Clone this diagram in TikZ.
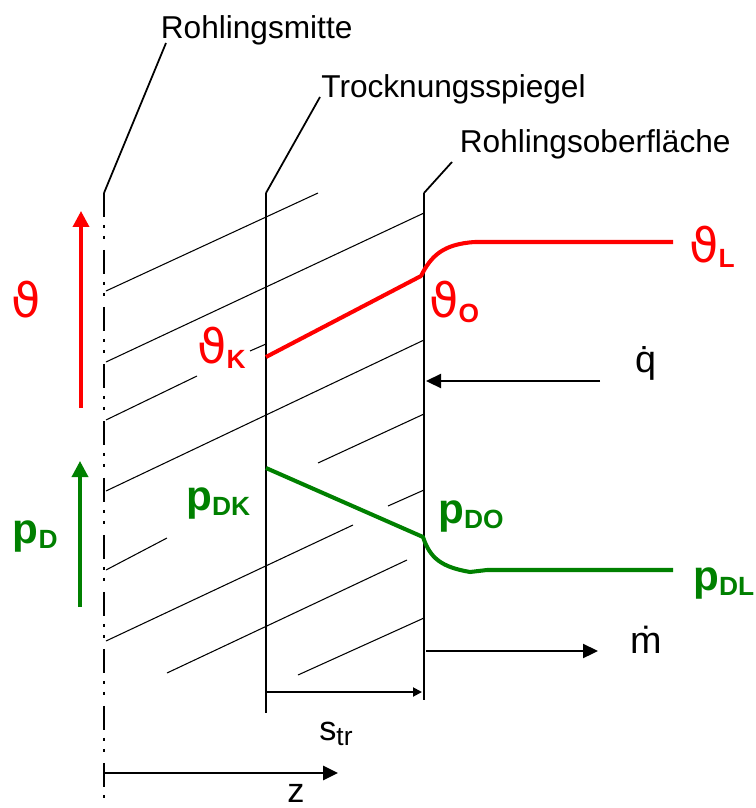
\documentclass[tikz,border=0pt]{standalone}
\usepackage{fontspec}
\setmainfont{Liberation Sans}
\newfontfamily\thetafont{DejaVu Sans}
\usetikzlibrary{arrows.meta,positioning}
\definecolor{thetared}{RGB}{255,0,0}
\definecolor{pdgreen}{RGB}{0,128,0}
\newcommand{\vth}{{\thetafont\mdseries\fontsize{27}{29}\selectfont ϑ}}
\newcommand{\lowidx}[1]{\raisebox{-0.11cm}{\fontsize{15}{17}\selectfont #1}}
\tikzset{
  plane label/.style={anchor=base west,inner sep=0pt,font=\fontsize{18}{20}\selectfont},
  theta label/.style={anchor=base west,inner sep=0pt,text=thetared,font=\fontsize{21.5}{24}\selectfont\bfseries},
  pd label/.style={anchor=base west,inner sep=0pt,text=pdgreen,font=\fontsize{24}{26}\selectfont\bfseries},
  flux label/.style={anchor=base west,inner sep=0pt,font=\fontsize{21.5}{24}\selectfont},
  leader line/.style={line width=1pt},
  hatch line/.style={line width=0.6pt},
  mid line/.style={line width=1.7pt,dash pattern=on 0.48cm off 0.16cm on 0.06cm off 0.16cm on 0.06cm off 0.22cm},
  front line/.style={line width=0.9pt},
  surface line/.style={line width=1.7pt},
  profile/.style={line width=2.3pt,line join=round},
  axis arrow/.style={line width=2pt,-{Triangle[length=0.32cm,width=0.32cm]}},
  flux arrow/.style={line width=1.3pt,-{Triangle[length=0.3cm,width=0.28cm]}},
  dim arrow/.style={line width=1.1pt,-{Triangle[length=0.18cm,width=0.18cm]}},
}

\begin{document}
\begin{tikzpicture}[x=0.02cm,y=-0.02cm]
  \useasboundingbox (0,0) rectangle (755,808);
  % planes
  \coordinate (mitteTop) at (104,193);
  \coordinate (mitteBot) at (104,800);
  \coordinate (spiegelTop) at (266,193);
  \coordinate (spiegelBot) at (266,713);
  \coordinate (oberTop) at (424,193);
  \coordinate (oberBot) at (424,700);
  % hatching of the dry layer
  \draw[hatch line] (106,291) -- (318,193);
  \draw[hatch line] (106,362) -- (424,213);
  \draw[hatch line] (106,420) -- (197,376) (250,351) -- (266,344);
  \draw[hatch line] (106,491) -- (424,340);
  \draw[hatch line] (106,570) -- (167,538) (318,463) -- (424,414);
  \draw[hatch line] (106,641) -- (353,525) (388,506) -- (424,490);
  \draw[hatch line] (167,673) -- (407,560);
  \draw[hatch line] (298,675) -- (424,618);
  \draw[mid line] (mitteTop) -- (mitteBot);
  \draw[front line] (spiegelTop) -- (spiegelBot);
  \draw[surface line] (oberTop) -- (oberBot);
  % labels of the planes
  \node[plane label] (mitteLbl) at (160.5,38) {Rohlingsmitte};
  \node[plane label] (spiegelLbl) at (321,97) {Trocknungsspiegel};
  \node[plane label] (oberLbl) at (459.5,152) {Rohlingsoberfläche};
  \coordinate (mitteTip) at (166,43);
  \coordinate (spiegelTip) at (320,97);
  \coordinate (oberTip) at (452,162);
  \draw[leader line] (mitteTop) -- (mitteTip);
  \draw[leader line] (spiegelTop) -- (spiegelTip);
  \draw[leader line] (oberTop) -- (oberTip);
  % profiles
  \draw[profile,thetared] (266,357) -- (421,276) .. controls (431,256) and (443,244) .. (475,242) -- (673,242);
  \draw[profile,pdgreen] (266,468) -- (423,537) .. controls (430,558) and (441,567) .. (470,572) -- (487,570) -- (673,570);
  % axes on the left
  \coordinate (thetaFoot) at (81,408);
  \coordinate (thetaHead) at (81,211);
  \coordinate (pdFoot) at (80,607);
  \coordinate (pdHead) at (80,461);
  \draw[axis arrow,thetared] (thetaFoot) -- (thetaHead);
  \draw[axis arrow,pdgreen] (pdFoot) -- (pdHead);
  \node[theta label] (thetaAxis) at (11,317) {\vth};
  \node[pd label] (pdAxis) at (12.5,543) {p\lowidx{D}};
  % values at the planes
  \node[theta label] (thetaK) at (197,363) {\vth\lowidx{K}};
  \node[theta label] (thetaO) at (429,317) {\vth\lowidx{O}};
  \node[theta label] (thetaL) at (689,262) {\vth\lowidx{L}};
  \node[pd label] (pDK) at (186,510) {p\lowidx{DK}};
  \node[pd label] (pDO) at (438,523) {p\lowidx{DO}};
  \node[pd label] (pDL) at (693,590) {p\lowidx{DL}};
  % heat and mass flux
  \coordinate (qFoot) at (600,381);
  \coordinate (qHead) at (426,381);
  \coordinate (mFoot) at (426,651);
  \coordinate (mHead) at (598,651);
  \draw[flux arrow] (qFoot) -- (qHead);
  \draw[flux arrow] (mFoot) -- (mHead);
  \node[flux label] (qdot) at (635,372) {\.{q}};
  \node[flux label] (mdot) at (630.5,653) {\.{m}};
  % thickness and coordinate
  \coordinate (strFoot) at (266,692);
  \coordinate (strHead) at (422,692);
  \draw[dim arrow] (strFoot) -- (strHead);
  \node[anchor=base west,inner sep=0pt,font=\fontsize{19.5}{22}\selectfont] (str) at (319,740) {s\lowidx{tr}};
  \coordinate (zFoot) at (104,773);
  \coordinate (zHead) at (338,773);
  \draw[flux arrow,line width=1.5pt] (zFoot) -- (zHead);
  \node[anchor=base west,inner sep=0pt,font=\fontsize{19.5}{22}\selectfont] (zLbl) at (287,802) {z};
\end{tikzpicture}
\end{document}
